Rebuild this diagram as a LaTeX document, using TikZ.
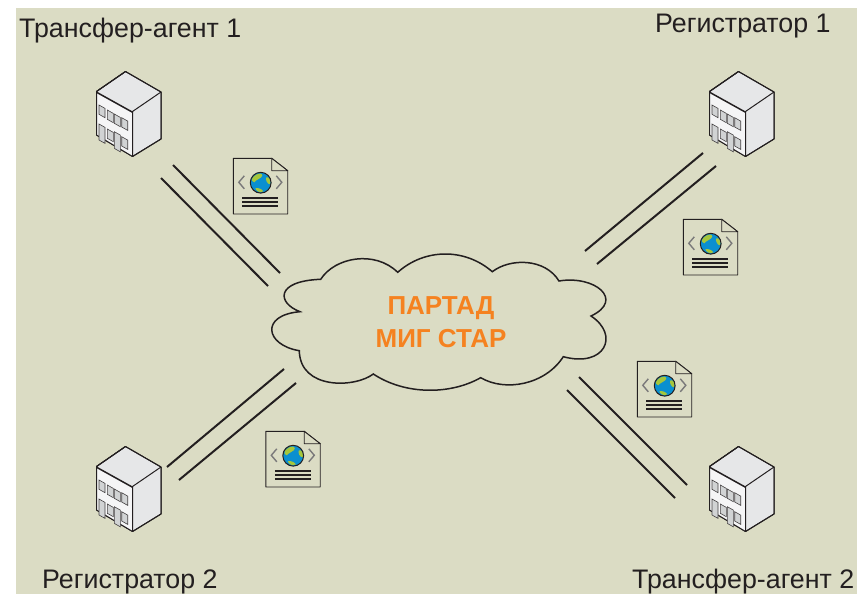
\documentclass[tikz,border=0pt]{standalone}
\usepackage{fontspec}
\setmainfont{Liberation Sans}
\usepackage{tikz}
\usetikzlibrary{positioning}
\definecolor{paper}{HTML}{DBDCC4}
\definecolor{ink}{HTML}{231F20}
\definecolor{wall}{HTML}{E6E7E8}
\definecolor{glass}{HTML}{D1D3D4}
\definecolor{cloudtext}{HTML}{F58220}
\definecolor{ocean}{HTML}{0A8FD0}
\definecolor{land}{HTML}{A5C63B}

\newcommand{\xwin}[3]{ % window of a house: x, y, height
	\draw[ink!85, fill=glass, line width=0.6pt] (#1, #2) -- ++(6, 3.4) -- ++(0, #3) -- ++(-6, -3.4) -- cycle;
}

\tikzset{
	edge/.style={ink, line width=2pt},
	sitename/.style={ink, anchor=base west, inner sep=0pt, font=\fontsize{26.8}{30}\selectfont},
	server/.pic={
		\draw[ink, fill=wall, line width=1pt, line join=round] (-3, -42.5) -- (32.5, -22) -- (32.5, 25) -- (4, 42.5) -- (-32, 21) -- (-32, -22.5) -- cycle; % outline
		\fill[white!60!wall] (-32, -22.5) -- (4, -2.5) -- (4, 42.5) -- (-32, 21) -- cycle; % front wall
		\draw[ink, line width=1pt, line join=round] (-3, -42.5) -- (32.5, -22) -- (32.5, 25) -- (4, 42.5) -- (-32, 21) -- (-32, -22.5) -- cycle;
		\draw[ink, line width=1pt] (32.5, -22) -- (4, -2.5) -- (4, 42.5);
		\draw[ink, line width=1pt] (-32, -22.5) -- (-3, -42.5);
		\draw[ink, line width=1.5pt] (-32, -21.8) -- (4, -1.8); % eaves
		\foreach \x/\y/\h in {-29.5/-9/9.3, -21.2/-4/9.3, -14.2/0/9.3, -6.8/3.7/9.3, -29.5/10/16, -21.2/15/9.3, -14.2/17.7/16.7, -6.8/22.7/9.3} {
			\xwin{\x}{\y}{\h}
		}
	},
	webdoc/.pic={
		\draw[ink, fill=paper, line width=0.9pt, line join=round] (0, 0) -- (38.4, 0) -- (54.4, 12.4) -- (54.4, 55.7) -- (0, 55.7) -- cycle;
		\draw[ink, fill=paper, line width=0.9pt, line join=round] (38.4, 0) -- (54.4, 12.4) -- (38.4, 12.4) -- cycle; % fold
		\draw[glass!50!ink, line width=1.4pt] (11, 17.5) -- (5.5, 24) -- (11, 30.5); % left bracket
		\draw[glass!50!ink, line width=1.4pt] (43, 17.5) -- (48.5, 24) -- (43, 30.5); % right bracket
		\fill[ocean] (27.4, 24.4) circle (10.4);
		\fill[land] (19.5, 19) .. controls (23, 15) and (29, 14) .. (29, 17) .. controls (29, 20) and (23, 21) .. (21, 24) .. controls (19, 24) and (18, 22) .. cycle;
		\fill[land] (33, 19) .. controls (36, 18) and (38, 22) .. (37, 26) .. controls (34, 26) and (32, 22) .. cycle;
		\fill[land] (22, 30) .. controls (25, 29) and (29, 31) .. (30, 33) .. controls (27, 35) and (23, 33) .. cycle;
		\draw[ink, line width=1pt] (27.4, 24.4) circle (10.4);
		\foreach \y in {40, 43.5, 47.5} {
			\draw[ink, line width=2pt] (9, \y) -- (45, \y);
		}
	}
}

\begin{document}
\begin{tikzpicture}[x=1pt, y=-1pt]

\useasboundingbox (0, 0) rectangle (857, 594);
\fill[paper] (16, 8) rectangle (857, 594);

\foreach \n/\x/\y in {ta1/128.5/114, reg1/741.5/114, reg2/128.5/489, ta2/741.5/489} {
	\pic (\n) at (\x, \y) {server};
}

\foreach \n/\x/\y in {ta1/233.3/158.3, reg1/683.3/219.3, ta2/637.3/361.3, reg2/265.8/431.3} {
	\pic (doc\n) at (\x, \y) {webdoc};
}

% ends of the links
\coordinate (ta1a) at (173, 165);
\coordinate (ta1b) at (280, 273);
\coordinate (ta1c) at (161, 178);
\coordinate (ta1d) at (268, 286);
\coordinate (reg1a) at (703, 153);
\coordinate (reg1b) at (585, 251);
\coordinate (reg1c) at (716, 166);
\coordinate (reg1d) at (597, 264);
\coordinate (reg2a) at (167, 467);
\coordinate (reg2b) at (284, 369);
\coordinate (reg2c) at (179, 480);
\coordinate (reg2d) at (296, 383);
\coordinate (ta2a) at (687, 485);
\coordinate (ta2b) at (579, 377);
\coordinate (ta2c) at (675, 498);
\coordinate (ta2d) at (567, 390);

\foreach \n in {ta1, reg1, reg2, ta2} {
	\draw[edge] (\n a) -- (\n b);
	\draw[edge] (\n c) -- (\n d);
}

% cloud
\draw[ink, line width=1.5pt, line join=miter] (300, 311.7)
	.. controls (277, 303) and (275, 281) .. (320.7, 279.3)
	.. controls (335, 257) and (375, 250) .. (397.7, 272.3)
	.. controls (425, 248) and (465, 248) .. (492.3, 271.7)
	.. controls (510, 258) and (545, 258) .. (559, 281)
	.. controls (595, 275) and (625, 300) .. (591, 316)
	.. controls (620, 335) and (605, 368) .. (563.3, 356.7)
	.. controls (545, 385) and (505, 392) .. (480.7, 377.7)
	.. controls (450, 395) and (405, 395) .. (373.3, 374)
	.. controls (355, 388) and (300, 390) .. (299.3, 350.7)
	.. controls (265, 345) and (260, 315) .. cycle;

\node[text=cloudtext, align=center, inner sep=0pt, font=\fontsize{26}{33}\selectfont\bfseries] (cloud) at (441, 322) {ПАРТАД\\МИГ СТАР};

\node[sitename] (ta1name) at (19, 38) {Трансфер-агент 1};
\node[sitename] (reg1name) at (655, 33) {Регистратор 1};
\node[sitename] (reg2name) at (42, 588) {Регистратор 2};
\node[sitename] (ta2name) at (632, 588) {Трансфер-агент 2};

\end{tikzpicture}
\end{document}
